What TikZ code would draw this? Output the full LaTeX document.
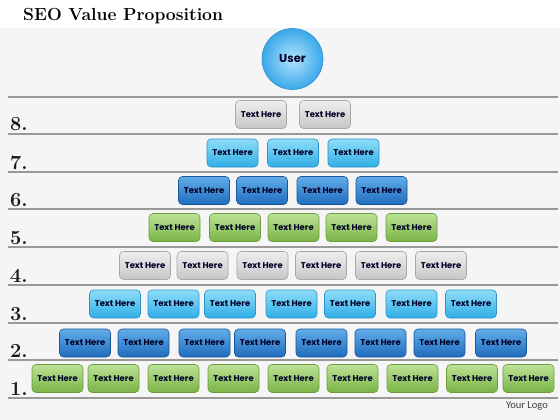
\documentclass[tikz,border=0pt]{standalone}
\usepackage{fontspec}
\newfontfamily\boxfont{Poppins}
\newfontfamily\logofont{Carlito}
\begin{document}
\begin{tikzpicture}[x=1pt,y=-1pt,
  stepbox/.style={rounded corners=4pt, minimum width=51pt, minimum height=28pt,
    inner sep=0pt, line width=0.6pt, font=\boxfont\bfseries\fontsize{8.4}{9}\selectfont,
    text=black!85!blue},
  graybox/.style={stepbox, draw=grayBorder, top color=grayTop, bottom color=grayBot},
  lbbox/.style={stepbox, draw=lbBorder, top color=lbTop, bottom color=lbBot},
  dbbox/.style={stepbox, draw=dbBorder, top color=dbTop, bottom color=dbBot},
  grbox/.style={stepbox, draw=grBorder, top color=grTop, bottom color=grBot},
  rowline/.style={draw=black!40, line width=1.1pt},
  numlabel/.style={anchor=base west, inner sep=0pt, font=\bfseries\fontsize{20}{20}\selectfont, text=black!90}
]
\definecolor{grayTop}{HTML}{EEEEEE}\definecolor{grayBot}{HTML}{C6C6C6}\definecolor{grayBorder}{HTML}{A8A8A8}
\definecolor{lbTop}{HTML}{8EDDF8}\definecolor{lbBot}{HTML}{30AEE6}\definecolor{lbBorder}{HTML}{2C92C8}
\definecolor{dbTop}{HTML}{62ACEA}\definecolor{dbBot}{HTML}{1E6CBE}\definecolor{dbBorder}{HTML}{1A5694}
\definecolor{grTop}{HTML}{BCE296}\definecolor{grBot}{HTML}{7AB446}\definecolor{grBorder}{HTML}{6C9C3E}
\useasboundingbox (0,0) rectangle (560,420);
\fill[white] (0,0) rectangle (560,28);
\fill[black!4] (0,28) rectangle (560,420);
\node[anchor=base west, inner sep=0pt, font=\bfseries\fontsize{17.5}{17.5}\selectfont] (title) at (23,20.5) {SEO Value Proposition};
% lines
\foreach \yy [count=\i] in {97,134,172,209,247,285,323,360,398}
  \draw[rowline] (8,\yy) -- (558,\yy);
% numbers
\foreach \n/\yy in {8/131,7/169,6/206,5/244,4/282,3/320,2/357,1/395}
  \node[numlabel] (num\n) at (10,\yy) {\n.};
% user
\node[circle, minimum size=61pt, inner sep=0pt, draw=lbBorder, line width=0.6pt,
  inner color={rgb,255:red,178;green,228;blue,252}, outer color={rgb,255:red,58;green,168;blue,234},
  font=\boxfont\bfseries\fontsize{11.5}{12}\selectfont, text=black!85!blue] (user) at (292.5,59) {User};
% rows
\foreach \xx [count=\k] in {261,325}
  \node[graybox] (r8b\k) at (\xx,114.5) {Text Here};
\foreach \xx [count=\k] in {232.5,293,353.5}
  \node[lbbox] (r7b\k) at (\xx,153) {Text Here};
\foreach \xx [count=\k] in {204,262,322.5,381.5}
  \node[dbbox] (r6b\k) at (\xx,190.5) {Text Here};
\foreach \xx [count=\k] in {174.5,235,293.5,351.5,411.5}
  \node[grbox] (r5b\k) at (\xx,227.5) {Text Here};
\foreach \xx [count=\k] in {145,202.5,262.5,321,381,441}
  \node[graybox] (r4b\k) at (\xx,265.5) {Text Here};
\foreach \xx [count=\k] in {115,173.5,230,291.5,350,411.5,471}
  \node[lbbox] (r3b\k) at (\xx,304) {Text Here};
\foreach \xx [count=\k] in {85,143.5,204.5,260,321.5,380.5,439.5,501}
  \node[dbbox] (r2b\k) at (\xx,343) {Text Here};
\foreach \xx [count=\k] in {57.5,113.5,173.5,233.5,293.5,352.5,412.5,472,528.5}
  \node[grbox] (r1b\k) at (\xx,378.5) {Text Here};
\node[anchor=east, inner sep=0pt, font=\logofont\fontsize{10.5}{11}\selectfont, text=black!75] (logo) at (548,406) {Your Logo};
\end{tikzpicture}
\end{document}
